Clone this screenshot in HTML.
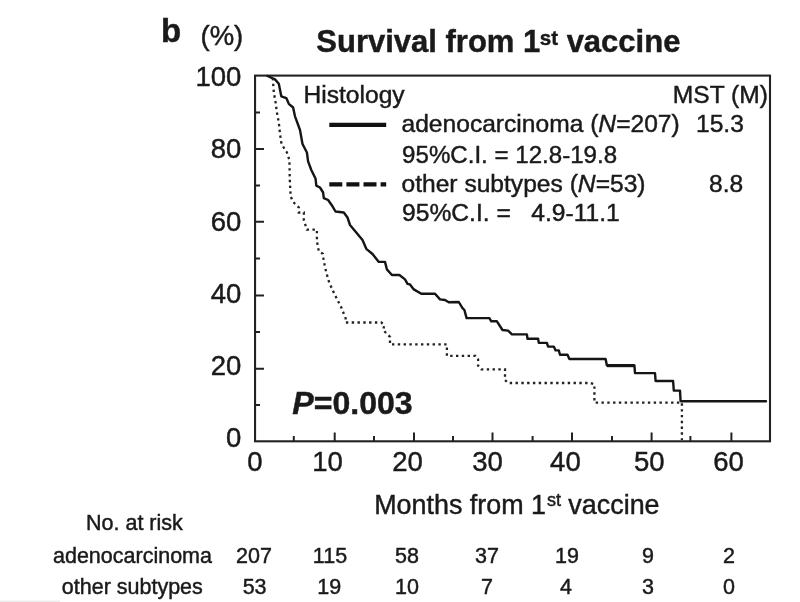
<!DOCTYPE html>
<html><head><meta charset="utf-8"><title>Survival from 1st vaccine</title>
<style>
html,body{margin:0;padding:0;background:#fff;}
body{width:800px;height:602px;overflow:hidden;}
svg{display:block;filter:blur(0.7px);}
text{font-family:"Liberation Sans",sans-serif;fill:#1a1a1a;stroke:#1a1a1a;stroke-width:0.45px;}
.b{font-weight:bold;}
.i{font-style:italic;}
</style></head><body>
<svg width="800" height="602" viewBox="0 0 800 602">
<rect width="800" height="602" fill="#fff"/>
<path d="M0 601.3H60" stroke="#ececec" stroke-width="1.5" fill="none"/>
<!-- frame -->
<rect x="255.05" y="75.6" width="514.95" height="365.7" fill="none" stroke="#222" stroke-width="2.1"/>
<!-- ticks -->
<g stroke="#222" stroke-width="2" fill="none">
<path d="M255.05 149.1H264M255.05 221.8H264M255.05 295.4H264M255.05 368.8H264"/>
<path d="M255.05 112.5H260M255.05 185.5H260M255.05 258.5H260M255.05 331.9H260M255.05 405H260"/>
<path d="M334.7 441.3V432.5M414 441.3V432.5M492.5 441.3V432.5M572 441.3V432.5M651.6 441.3V432.5M731.4 441.3V432.5"/>
<path d="M293.8 441.3V436M374 441.3V436M453 441.3V436M532.6 441.3V436M612 441.3V436M690.4 441.3V436"/>
</g>
<!-- solid curve -->
<path id="solid" fill="none" stroke="#151515" stroke-width="2.4" stroke-linejoin="round" stroke-linecap="round" d="M267.5 76 L275 79.4 L278.8 83.8 L281.3 96.3 L286.3 98.1 L288.8 103.8 L293.1 107.5 L295 116.3 L300 130 L302.5 144 L306.9 152.5 L308.1 161.3 L311.3 170 L315.6 178.8 L316.3 185.6 L320 187.5 L323.1 192.5 L323.8 198.1 L328.1 200 L332.5 206.3 L335.5 211.5 L343.8 212.5 L347.5 217.5 L350 225 L362.5 240 L366.3 248.8 L372.5 254 L378.8 261.9 L385 261.9 L386.9 269.4 L391.9 275 L399.4 275 L405 279.4 L407.5 283.8 L410 284.4 L413.8 289.4 L421.3 293.8 L435 293.8 L440 299.4 L445 300 L448.8 302.3 L458.8 302 L462.5 308.1 L464.4 310 L466.6 318.1 L489.4 318.1 L491.3 321.3 L496.9 321.3 L502.5 330 L508.1 330.6 L511.9 334.4 L526.9 334.4 L527.5 338.8 L538.1 338.8 L538.8 342.9 L546.9 342.9 L548.1 346.6 L553.8 346.6 L555.6 350.4 L558.8 350.4 L560 354.8 L567.5 354.8 L569.4 359 L605.6 359 L606.9 365.4 L634.4 365.4 L635 373.1 L655 373.1 L655.6 381 L673.1 381 L673.8 390.6 L680 390.6 L680.6 401.3 L766 401.3"/>
<path d="M607 365.6H634.5" stroke="#151515" stroke-width="3.2" fill="none"/>
<!-- dotted curve -->
<path id="dot" fill="none" stroke="#222" stroke-width="2.3" stroke-dasharray="2.4 3.4" d="M272.8 78 L273.8 92.5 L275.6 102.5 L276.9 112.5 L278.8 122.5 L280 133.8 L281.5 144 L286.9 152.5 L289.4 160 L289.8 180 L290.6 196.3 L293.1 201.9 L298.8 207.5 L298.8 212.5 L303.8 212.5 L303.8 220 L306.9 229.6 L316.9 229.6 L316.9 241.3 L318.8 251.3 L322.8 253.8 L323.8 261.3 L326.3 272.5 L328.8 281.3 L332.5 290 L336.9 298.8 L341.3 307.5 L345.6 318.1 L345.6 322.5 L381.3 322.5 L384.4 325 L383.1 330 L390 336.9 L390 344.4 L446.9 344.4 L446.9 355.8 L475.6 355.8 L478.1 359.4 L478.1 365.6 L481.3 369.4 L505 369.4 L505 380 L508.1 383 L590.6 383 L594.4 384.4 L594.4 402.6 L681.9 402.6 L681.9 440"/>
<!-- legend lines -->
<path d="M329.3 124.9H386.2" stroke="#111" stroke-width="4.4"/>
<path d="M329.3 184.4H386.2" stroke="#111" stroke-width="4.4" stroke-dasharray="13 4.1"/>
<!-- text -->
<text class="b" x="161" y="42" font-size="33">b</text>
<text x="200.5" y="45.3" font-size="27.5">(%)</text>
<text class="b" x="316.3" y="52.2" font-size="31">Survival from 1<tspan font-size="20.5" dy="-7.5" dx="-0.5">st</tspan><tspan dy="7.5"> vaccine</tspan></text>
<g font-size="27.5" text-anchor="end">
<text x="241.3" y="85.9">100</text>
<text x="241.3" y="158.3">80</text>
<text x="241.3" y="230.5">60</text>
<text x="241.3" y="302.5">40</text>
<text x="241.3" y="374.5">20</text>
<text x="241.3" y="446.5">0</text>
</g>
<g font-size="27.5" text-anchor="middle">
<text x="254.8" y="470.5">0</text>
<text x="327.5" y="470.5">10</text>
<text x="407.5" y="470.5">20</text>
<text x="487.5" y="470.5">30</text>
<text x="565.4" y="470.5">40</text>
<text x="649.3" y="470.5">50</text>
<text x="728.5" y="470.5">60</text>
</g>
<g font-size="24.6">
<text x="303.5" y="102.7">Histology</text>
<text x="672.8" y="102.7">MST (M)</text>
<text x="401.5" y="132.3">adenocarcinoma (<tspan class="i">N</tspan>=207)</text>
<text x="696" y="132.3">15.3</text>
<text x="402.1" y="163" textLength="215" lengthAdjust="spacingAndGlyphs">95%C.I. = 12.8-19.8</text>
<text x="401.5" y="192.4">other subtypes (<tspan class="i">N</tspan>=53)</text>
<text x="709" y="192.4">8.8</text>
<text x="402.1" y="220.8" xml:space="preserve">95%C.I. =   4.9-11.1</text>
</g>
<text class="b" x="292.3" y="414" font-size="32.1"><tspan class="i">P</tspan>=0.003</text>
<text x="374.2" y="513.7" font-size="26.9">Months from 1<tspan font-size="18" dy="-7.3" dx="0.8">st</tspan><tspan dy="7.3"> vaccine</tspan></text>
<g font-size="21.5">
<text x="86" y="530">No. at risk</text>
<text x="53" y="562.6">adenocarcinoma</text>
<text x="61.8" y="594.2">other subtypes</text>
</g>
<g font-size="21.5" text-anchor="middle">
<text x="254" y="562.6">207</text><text x="330" y="562.6">115</text><text x="407" y="562.6">58</text><text x="487" y="562.6">37</text><text x="567" y="562.6">19</text><text x="648" y="562.6">9</text><text x="729" y="562.6">2</text>
<text x="254.6" y="594.2">53</text><text x="329.3" y="594.2">19</text><text x="407" y="594.2">10</text><text x="487" y="594.2">7</text><text x="566" y="594.2">4</text><text x="648" y="594.2">3</text><text x="729" y="594.2">0</text>
</g>
</svg>
</body></html>
